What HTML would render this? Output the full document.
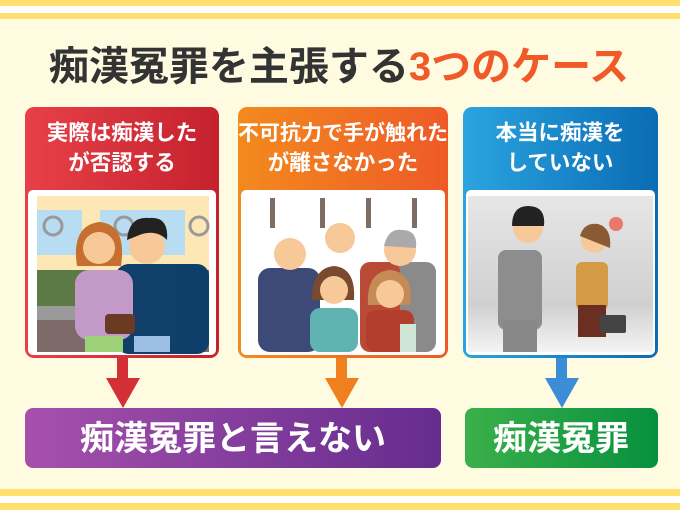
<!DOCTYPE html>
<html><head><meta charset="utf-8"><style>
html,body{margin:0;padding:0;background:#fffbe0;}
svg{display:block}
text{font-family:"Liberation Sans","Noto Sans CJK JP",sans-serif;font-weight:bold}
</style></head><body>
<svg width="680" height="510" viewBox="0 0 680 510" xmlns="http://www.w3.org/2000/svg">
<defs>
<linearGradient id="gr" x1="0" x2="1"><stop offset="0" stop-color="#e84048"/><stop offset="1" stop-color="#c4222e"/></linearGradient>
<linearGradient id="go" x1="0" x2="1"><stop offset="0" stop-color="#f38a1e"/><stop offset="1" stop-color="#ee5a27"/></linearGradient>
<linearGradient id="gb" x1="0" x2="1"><stop offset="0" stop-color="#2aa4e0"/><stop offset="1" stop-color="#0a6cb4"/></linearGradient>
<linearGradient id="gp" x1="0" x2="1"><stop offset="0" stop-color="#a650ac"/><stop offset="1" stop-color="#652c8e"/></linearGradient>
<linearGradient id="gg" x1="0" x2="1"><stop offset="0" stop-color="#3bb04a"/><stop offset="1" stop-color="#07903e"/></linearGradient>
<linearGradient id="gbg" x1="0" y1="0" x2="0" y2="1"><stop offset="0" stop-color="#e6e6e6"/><stop offset="0.7" stop-color="#d0d0d0"/><stop offset="1" stop-color="#f4f4f4"/></linearGradient>
</defs>
<rect width="680" height="510" fill="#fffbe0"/>
<rect y="0" width="680" height="6" fill="#ffe06e"/>
<rect y="6" width="680" height="7" fill="#fff"/>
<rect y="13" width="680" height="6" fill="#ffe06e"/>
<rect y="489" width="680" height="7" fill="#ffe06e"/>
<rect y="496" width="680" height="7" fill="#fff"/>
<rect y="503" width="680" height="7" fill="#ffe06e"/>

<text x="339" y="80" font-size="40" text-anchor="middle" fill="#333">痴漢冤罪を主張する<tspan fill="#f05a28">3つのケース</tspan></text>

<!-- card1 -->
<rect x="25" y="107" width="194" height="251" rx="9" fill="url(#gr)"/>
<rect x="28" y="190" width="188" height="165" rx="5" fill="#fff"/>
<text x="122" y="140" font-size="21.5" text-anchor="middle" fill="#fff">実際は痴漢した</text>
<text x="122" y="170" font-size="21.5" text-anchor="middle" fill="#fff">が否認する</text>
<g transform="translate(37,196)">
<rect width="172" height="156" fill="#fde7b4"/>
<rect x="0" y="14" width="45" height="45" fill="#b8dcf2"/>
<rect x="63" y="14" width="85" height="45" fill="#b8dcf2"/>
<rect x="0" y="74" width="172" height="40" fill="#5b7a45"/>
<rect x="0" y="114" width="172" height="42" fill="#7d6a68"/>
<rect x="0" y="110" width="172" height="14" fill="#9a9a9a"/>
<circle cx="16" cy="30" r="9" fill="none" stroke="#999" stroke-width="3"/>
<circle cx="87" cy="30" r="9" fill="none" stroke="#999" stroke-width="3"/>
<circle cx="162" cy="30" r="9" fill="none" stroke="#999" stroke-width="3"/>
<rect x="106" y="68" width="66" height="90" rx="12" fill="#0e3f6b"/>
<rect x="78" y="68" width="66" height="90" rx="14" fill="#103f6a"/>
<rect x="97" y="140" width="36" height="16" fill="#9cc0e4"/>
<circle cx="110" cy="50" r="18" fill="#f7c998"/>
<path d="M90 44 Q92 20 112 22 Q132 20 130 44 Q118 32 100 40 Z" fill="#222"/>
<rect x="38" y="74" width="58" height="70" rx="14" fill="#c39ac7"/>
<rect x="48" y="140" width="38" height="16" fill="#9ed07a"/>
<path d="M40 70 Q34 30 62 26 Q90 28 84 70 Z" fill="#c56f30"/>
<circle cx="62" cy="52" r="16" fill="#f7c998"/>
<rect x="68" y="118" width="30" height="20" rx="4" fill="#6a3a22"/>
</g>
<path d="M117 358 h11 v20 h12 l-17 30 l-17 -30 h11 z" fill="#d32f36"/>

<!-- card2 -->
<rect x="238" y="107" width="210" height="251" rx="9" fill="url(#go)"/>
<rect x="241" y="190" width="204" height="165" rx="5" fill="#fff"/>
<text x="343" y="140" font-size="21" text-anchor="middle" fill="#fff">不可抗力で手が触れた</text>
<text x="343" y="170" font-size="21.5" text-anchor="middle" fill="#fff">が離さなかった</text>
<g>
<rect x="270" y="198" width="5" height="30" fill="#7c6e64"/>
<rect x="320" y="198" width="5" height="30" fill="#7c6e64"/>
<rect x="366" y="198" width="5" height="30" fill="#7c6e64"/>
<rect x="412" y="198" width="5" height="30" fill="#7c6e64"/>
<rect x="258" y="268" width="62" height="84" rx="12" fill="#3d4a78"/>
<rect x="396" y="262" width="40" height="90" rx="10" fill="#8a8a8a"/>
<rect x="360" y="262" width="40" height="90" rx="10" fill="#b94a36"/>
<circle cx="290" cy="254" r="16" fill="#f7c998"/>
<circle cx="340" cy="238" r="15" fill="#f7c998"/>
<circle cx="400" cy="250" r="16" fill="#f7c998"/>
<path d="M384 246 Q388 228 402 230 Q418 230 416 248 Z" fill="#aaa"/>
<rect x="310" y="308" width="48" height="44" rx="10" fill="#5fb3b0"/>
<path d="M312 300 Q312 268 334 266 Q356 268 354 300 Z" fill="#7a4a2e"/>
<circle cx="334" cy="290" r="14" fill="#f7c998"/>
<rect x="366" y="310" width="48" height="42" rx="10" fill="#b33e2d"/>
<path d="M368 305 Q366 272 390 270 Q414 272 410 305 Z" fill="#c68a55"/>
<circle cx="390" cy="294" r="14" fill="#f7c998"/>
<rect x="400" y="324" width="16" height="28" fill="#cfe5d6"/>
</g>
<path d="M336 358 h11 v20 h12 l-17 30 l-17 -30 h11 z" fill="#f0801f"/>

<!-- card3 -->
<rect x="463" y="107" width="195" height="251" rx="9" fill="url(#gb)"/>
<rect x="466" y="190" width="189" height="165" rx="5" fill="#fff"/>
<text x="560" y="140" font-size="21.5" text-anchor="middle" fill="#fff">本当に痴漢を</text>
<text x="560" y="170" font-size="21.5" text-anchor="middle" fill="#fff">していない</text>
<g>
<rect x="468" y="196" width="185" height="156" fill="url(#gbg)"/>
<rect x="498" y="250" width="44" height="80" rx="8" fill="#8d8d8d"/>
<rect x="503" y="320" width="34" height="32" fill="#888"/>
<circle cx="528" cy="228" r="15" fill="#f7c998"/>
<path d="M512 226 Q512 206 528 206 Q546 206 544 226 Z" fill="#222"/>
<rect x="576" y="262" width="32" height="48" rx="6" fill="#d49a45"/>
<rect x="578" y="305" width="28" height="32" fill="#6a2e22"/>
<circle cx="594" cy="240" r="13" fill="#f7c998"/>
<path d="M580 236 Q584 222 598 224 Q612 228 610 248 Z" fill="#8a5a34"/>
<rect x="600" y="315" width="26" height="18" rx="2" fill="#444"/>
<circle cx="616" cy="224" r="7" fill="#e7786a"/>
</g>
<path d="M556 358 h11 v20 h12 l-17 30 l-17 -30 h11 z" fill="#3a8dd6"/>

<!-- result boxes -->
<rect x="25" y="408" width="416" height="60" rx="8" fill="url(#gp)"/>
<text x="233" y="450" font-size="34" text-anchor="middle" fill="#fff">痴漢冤罪と言えない</text>
<rect x="465" y="408" width="193" height="60" rx="8" fill="url(#gg)"/>
<text x="561" y="450" font-size="34" text-anchor="middle" fill="#fff">痴漢冤罪</text>
</svg>
</body></html>
